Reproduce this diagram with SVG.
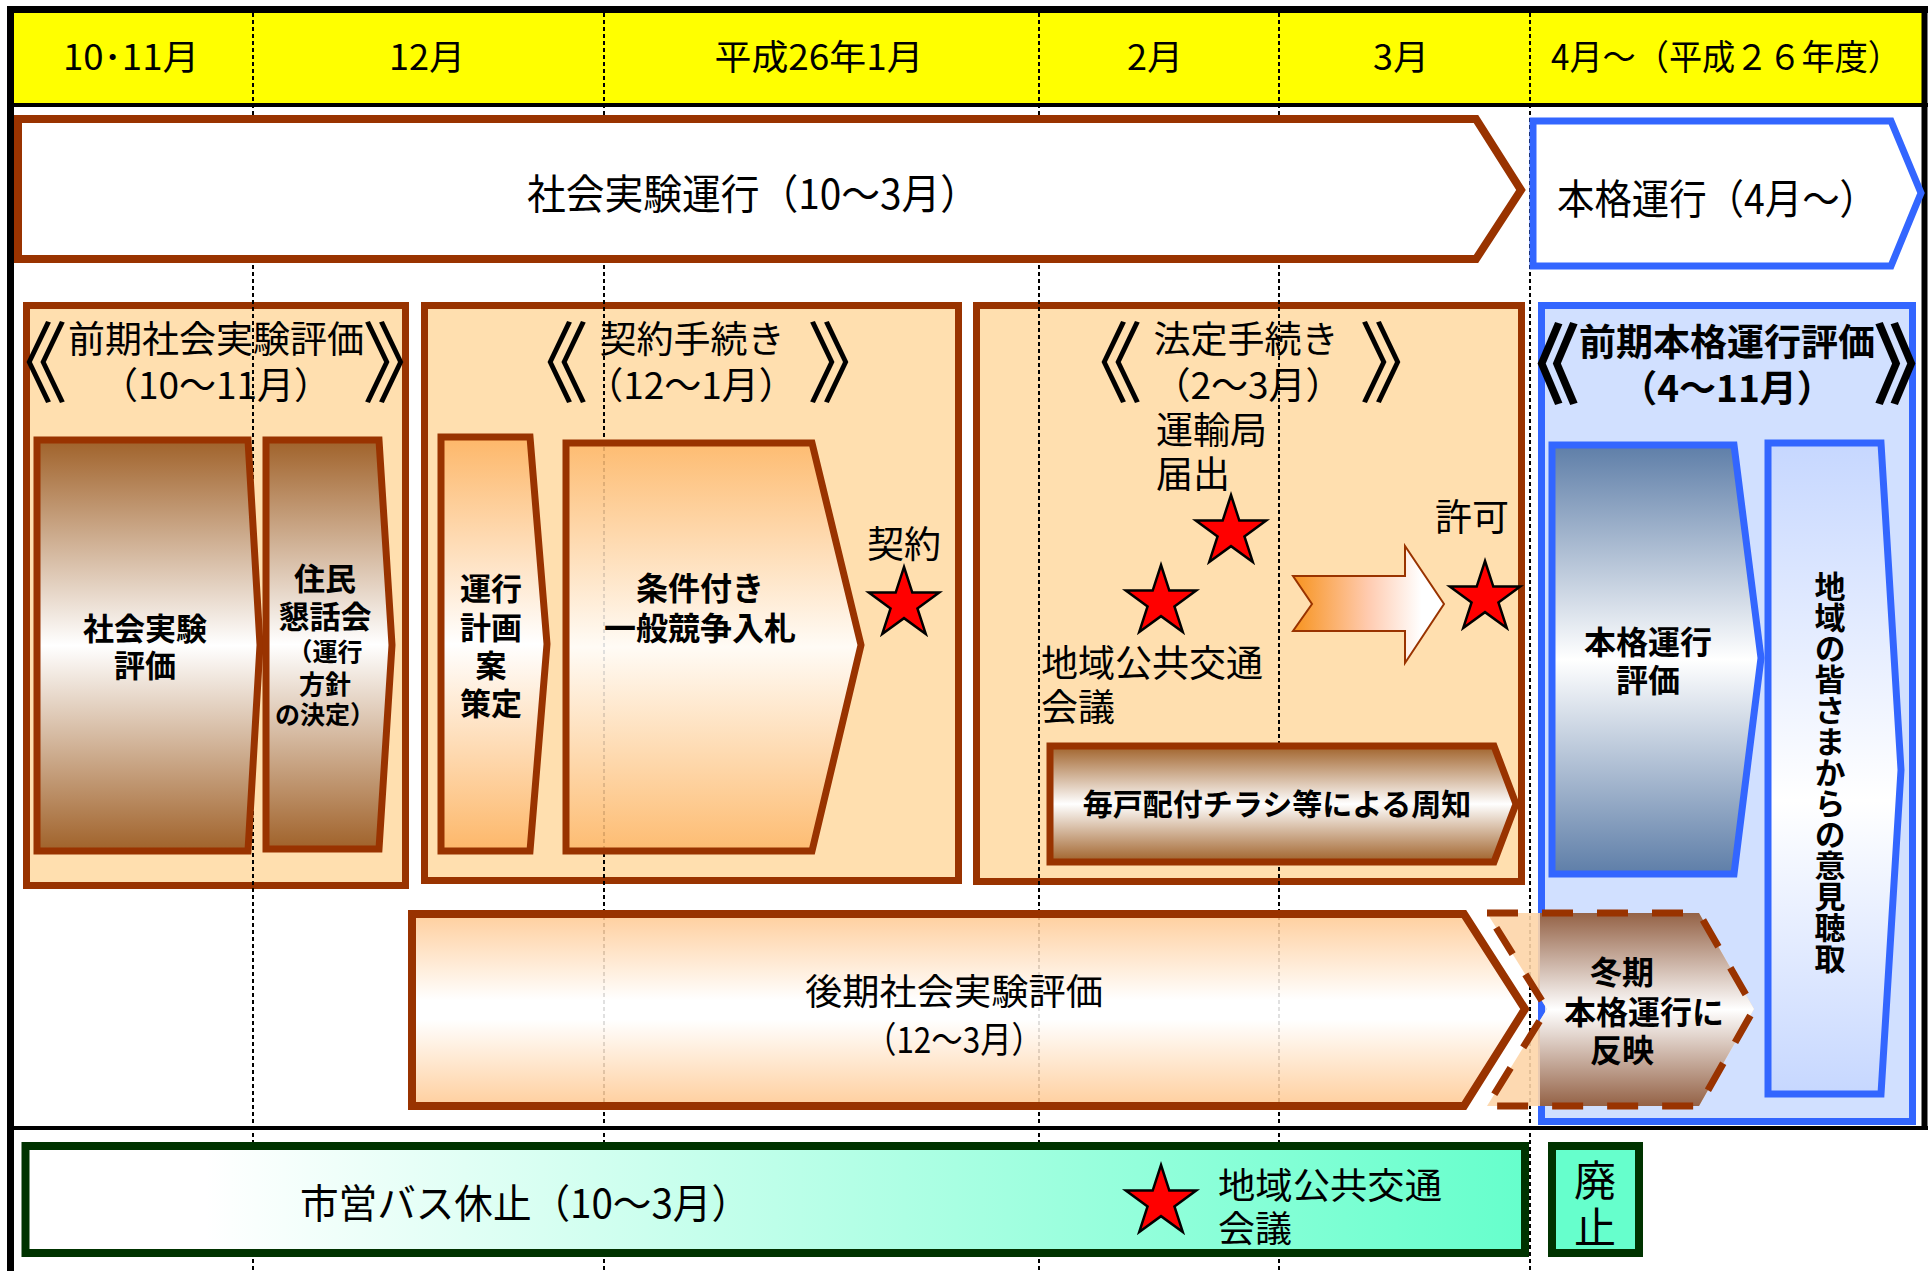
<svg xmlns="http://www.w3.org/2000/svg" width="1928" height="1271" viewBox="0 0 1928 1271">
<defs>
<style>
.t{font-family:'Noto Sans CJK JP','Noto Sans CJK SC',sans-serif;fill:#000}
.b{font-weight:bold}
.m{text-anchor:middle}
.k{font-feature-settings:"halt" 1}
.br{stroke:#993300;stroke-width:7;stroke-linejoin:miter}
.bl{stroke:#3366FF;stroke-width:7}
.star{fill:#FF0000;stroke:#000;stroke-width:2.5;stroke-linejoin:miter}
.dot{stroke:#000;stroke-width:2;stroke-dasharray:4 3;fill:none}
</style>
<linearGradient id="gBrown" x1="0" y1="0" x2="0" y2="1"><stop offset="0" stop-color="#A0622A"/><stop offset="0.5" stop-color="#FFFFFF"/><stop offset="1" stop-color="#A0622A"/></linearGradient>
<linearGradient id="gOrange" x1="0" y1="0" x2="0" y2="1"><stop offset="0" stop-color="#FDB769"/><stop offset="0.5" stop-color="#FFFFFF"/><stop offset="1" stop-color="#FDB769"/></linearGradient>
<linearGradient id="gPeach" x1="0" y1="0" x2="0" y2="1"><stop offset="0" stop-color="#FFC890"/><stop offset="0.45" stop-color="#FFFFFF"/><stop offset="0.55" stop-color="#FFFFFF"/><stop offset="1" stop-color="#FFC890"/></linearGradient>
<linearGradient id="gBlueGray" x1="0" y1="0" x2="0" y2="1"><stop offset="0" stop-color="#5E7EA8"/><stop offset="0.5" stop-color="#FFFFFF"/><stop offset="1" stop-color="#5E7EA8"/></linearGradient>
<linearGradient id="gLightBlue" x1="0" y1="0" x2="0" y2="1"><stop offset="0" stop-color="#C6D7FF"/><stop offset="0.55" stop-color="#FFFFFF"/><stop offset="1" stop-color="#C6D7FF"/></linearGradient>
<linearGradient id="gOrangeH" x1="0" y1="0" x2="1" y2="0"><stop offset="0" stop-color="#F7931E"/><stop offset="0.5" stop-color="#FFCBB0"/><stop offset="0.85" stop-color="#FFFFFF"/></linearGradient>
<linearGradient id="gGreenH" x1="0" y1="0" x2="1" y2="0"><stop offset="0" stop-color="#FFFFFF"/><stop offset="0.12" stop-color="#FFFFFF"/><stop offset="1" stop-color="#66FFCC"/></linearGradient>
<linearGradient id="gWinter" x1="0" y1="0" x2="0" y2="1"><stop offset="0" stop-color="#946246"/><stop offset="0.5" stop-color="#FFFFFF"/><stop offset="1" stop-color="#946246"/></linearGradient>
<clipPath id="cpRight"><rect x="1540" y="880" width="300" height="260"/></clipPath>
<path id="star" d="M0,-37 L8.31,-11.43 L35.19,-11.43 L13.44,4.37 L21.75,29.93 L0,14.13 L-21.75,29.93 L-13.44,4.37 L-35.19,-11.43 L-8.31,-11.43 Z"/>
</defs>

<rect x="0" y="0" width="1928" height="1271" fill="#FFFFFF"/>

<g id="header">
<rect x="10" y="10" width="1915" height="95" fill="#FFFF00"/>
<text class="t m" x="131" y="70" font-size="35" textLength="136" lengthAdjust="spacingAndGlyphs">10･11月</text>
<text class="t m" x="427" y="70" font-size="35" textLength="76" lengthAdjust="spacingAndGlyphs">12月</text>
<text class="t m" x="819" y="70" font-size="35" textLength="209" lengthAdjust="spacingAndGlyphs">平成26年1月</text>
<text class="t m" x="1155" y="70" font-size="35" textLength="56" lengthAdjust="spacingAndGlyphs">2月</text>
<text class="t m" x="1401" y="70" font-size="35" textLength="56" lengthAdjust="spacingAndGlyphs">3月</text>
<text class="t m" x="1726" y="70" font-size="35" textLength="350" lengthAdjust="spacingAndGlyphs">4月～（平成２６年度）</text>
</g>

<g id="box-zenki-shakai">
<rect x="26.5" y="305.5" width="379" height="580" fill="#FFDFAF" class="br"/>
</g>
<g id="box-keiyaku">
<rect x="424.5" y="305.5" width="534" height="575" fill="#FFDFAF" class="br"/>
</g>
<g id="box-houtei">
<rect x="976.5" y="305.5" width="545" height="576" fill="#FFDFAF" class="br"/>
</g>
<g id="box-zenki-honkaku">
<rect x="1541.5" y="305.5" width="371" height="816" fill="#D1E0FF" class="bl"/>
</g>

<g id="gridlines">
<line class="dot" x1="253" y1="13" x2="253" y2="1271"/>
<line class="dot" x1="604" y1="13" x2="604" y2="1271"/>
<line class="dot" x1="1039" y1="13" x2="1039" y2="1271"/>
<line class="dot" x1="1279" y1="13" x2="1279" y2="1271"/>
<line class="dot" x1="1530" y1="13" x2="1530" y2="1271"/>
</g>

<g id="frame" stroke="#000" fill="none">
<line x1="7" y1="9.5" x2="1928" y2="9.5" stroke-width="7"/>
<line x1="10.5" y1="6" x2="10.5" y2="1271" stroke-width="7"/>
<line x1="1924.5" y1="6" x2="1924.5" y2="1129" stroke-width="6"/>
<line x1="7" y1="105" x2="1928" y2="105" stroke-width="4"/>
<line x1="7" y1="1128" x2="1928" y2="1128" stroke-width="4"/>
</g>

<g id="shakai-unkou">
<path d="M18,119 L1476,119 L1521,190 L1476,259 L18,259 Z" fill="#FFFFFF" stroke="#993300" stroke-width="8"/>
<text class="t m" x="753" y="209" font-size="41" textLength="452" lengthAdjust="spacingAndGlyphs">社会実験運行（10～3月）</text>
</g>

<g id="honkaku-unkou">
<path d="M1533,121 L1891,121 L1921,193 L1891,266 L1533,266 Z" fill="#FFFFFF" stroke="#3366FF" stroke-width="7"/>
<text class="t m" x="1717" y="214" font-size="41" textLength="320" lengthAdjust="spacingAndGlyphs">本格運行（4月～）</text>
</g>

<g id="title-zenki-shakai">
<text class="t m k" x="46" y="395" font-size="88">《</text>
<text class="t m" x="216" y="353" font-size="37">前期社会実験評価</text>
<text class="t m" x="216" y="399" font-size="37">（10～11月）</text>
<text class="t m k" x="384" y="395" font-size="88">》</text>
</g>

<g id="shakai-hyouka">
<path d="M37,440 L248,440 L260,645 L248,851 L37,851 Z" fill="url(#gBrown)" class="br"/>
<text class="t b m" x="145" y="640" font-size="31">社会実験</text>
<text class="t b m" x="145" y="677" font-size="31">評価</text>
</g>

<g id="jumin-kondankai">
<path d="M266,440 L379,440 L392,645 L379,849 L266,849 Z" fill="url(#gBrown)" class="br"/>
<text class="t b m" x="325" y="590" font-size="31">住民</text>
<text class="t b m" x="325" y="628" font-size="31">懇話会</text>
<text class="t b m" x="325" y="661" font-size="25">（運行</text>
<text class="t b m" x="325" y="694" font-size="26">方針</text>
<text class="t b m" x="325" y="724" font-size="25">の決定）</text>
</g>

<g id="title-keiyaku">
<text class="t m k" x="567" y="395" font-size="88">《</text>
<text class="t m" x="692" y="353" font-size="37">契約手続き</text>
<text class="t m" x="691" y="399" font-size="37">（12～1月）</text>
<text class="t m k" x="829" y="395" font-size="88">》</text>
</g>

<g id="unkou-keikaku">
<path d="M441,437 L530,437 L547,644 L530,851 L441,851 Z" fill="url(#gOrange)" class="br"/>
<text class="t b m" x="491" y="600" font-size="31">運行</text>
<text class="t b m" x="491" y="639" font-size="31">計画</text>
<text class="t b m" x="491" y="677" font-size="31">案</text>
<text class="t b m" x="491" y="715" font-size="31">策定</text>
</g>

<g id="nyusatsu">
<path d="M566,443 L812,443 L861,645 L812,851 L566,851 Z" fill="url(#gOrange)" fill-opacity="0.88" class="br"/>
<text class="t b m" x="700" y="600" font-size="32">条件付き</text>
<text class="t b m" x="700" y="640" font-size="32">一般競争入札</text>
</g>

<g id="keiyaku">
<text class="t m" x="904" y="558" font-size="37">契約</text>
<use href="#star" class="star" transform="translate(904,604)"/>
</g>

<g id="title-houtei">
<text class="t m k" x="1121" y="395" font-size="88">《</text>
<text class="t m" x="1246" y="353" font-size="37">法定手続き</text>
<text class="t m" x="1248" y="399" font-size="37">（2～3月）</text>
<text class="t m k" x="1381" y="395" font-size="88">》</text>
</g>

<g id="unyukyoku">
<text class="t" x="1156" y="444" font-size="37">運輸局</text>
<text class="t" x="1156" y="488" font-size="37">届出</text>
<use href="#star" class="star" transform="translate(1231,532)"/>
</g>

<g id="chiiki-kaigi-1">
<use href="#star" class="star" transform="translate(1161,602)"/>
<text class="t" x="1041" y="677" font-size="37">地域公共交通</text>
<text class="t" x="1041" y="721" font-size="37">会議</text>
</g>

<g id="kyoka-arrow">
<path d="M1293,576 L1405,576 L1405,546 L1444,604 L1405,663 L1405,631 L1293,631 L1312,604 Z" fill="url(#gOrangeH)" stroke="#993300" stroke-width="2"/>
</g>

<g id="kyoka">
<text class="t m" x="1472" y="531" font-size="37">許可</text>
<use href="#star" class="star" transform="translate(1485,598)"/>
</g>

<g id="shuchi">
<path d="M1050,746 L1494,746 L1516,804 L1494,862 L1050,862 Z" fill="url(#gBrown)" class="br"/>
<text class="t b m" x="1277" y="815" font-size="30">毎戸配付チラシ等による周知</text>
</g>

<g id="title-zenki-honkaku">
<text class="t b m k" x="1558" y="397" font-size="88">《</text>
<text class="t b m" x="1727" y="356" font-size="37">前期本格運行評価</text>
<text class="t b m" x="1727" y="402" font-size="37">（4～11月）</text>
<text class="t b m k" x="1895" y="397" font-size="88">》</text>
</g>

<g id="honkaku-hyouka">
<path d="M1552,445 L1734,445 L1761,658 L1734,874 L1552,874 Z" fill="url(#gBlueGray)" class="bl"/>
<text class="t b m" x="1648" y="654" font-size="32">本格運行</text>
<text class="t b m" x="1648" y="692" font-size="32">評価</text>
</g>

<g id="iken-chousyu">
<path d="M1768,443 L1881,443 L1901,770 L1881,1094 L1768,1094 Z" fill="url(#gLightBlue)" class="bl"/>
<text class="t b" x="1830" y="571" font-size="31" writing-mode="vertical-rl">地域の皆さまからの意見聴取</text>
</g>

<g id="touki-hanei">
<path d="M1487,913 L1699,913 L1754,1009 L1699,1106 L1487,1106 L1547,1009 Z" fill="#FDD5A8" fill-opacity="0.9"/>
<path d="M1487,913 L1699,913 L1754,1009 L1699,1106 L1487,1106 L1547,1009 Z" fill="url(#gWinter)" clip-path="url(#cpRight)"/>
<path d="M1487,913 L1699,913 L1754,1009 L1699,1106 L1487,1106 L1547,1009 Z" fill="none" stroke="#993300" stroke-width="7" stroke-dasharray="31 24"/>
<text class="t b m" x="1622" y="984" font-size="32">冬期</text>
<text class="t b m" x="1644" y="1024" font-size="32">本格運行に</text>
<text class="t b m" x="1622" y="1062" font-size="32">反映</text>
</g>

<g id="kouki-hyouka">
<path d="M412,914 L1464,914 L1525,1009 L1464,1106 L412,1106 Z" fill="url(#gPeach)" fill-opacity="0.88" stroke="#993300" stroke-width="8"/>
<text class="t m" x="954" y="1005" font-size="36" textLength="298" lengthAdjust="spacingAndGlyphs">後期社会実験評価</text>
<text class="t m" x="954" y="1053" font-size="36" textLength="178" lengthAdjust="spacingAndGlyphs">（12～3月）</text>
</g>

<g id="shiei-bus">
<rect x="25.5" y="1146" width="1499.5" height="107" fill="url(#gGreenH)" stroke="#003300" stroke-width="8"/>
<text class="t m" x="525" y="1218" font-size="40" textLength="450" lengthAdjust="spacingAndGlyphs">市営バス休止（10～3月）</text>
<use href="#star" class="star" transform="translate(1161,1202)"/>
<text class="t" x="1218" y="1199" font-size="36" textLength="224" lengthAdjust="spacingAndGlyphs">地域公共交通</text>
<text class="t" x="1218" y="1242" font-size="36" textLength="74" lengthAdjust="spacingAndGlyphs">会議</text>
</g>

<g id="haishi">
<rect x="1552" y="1146" width="87" height="107" fill="#66FFCC" stroke="#003300" stroke-width="8"/>
<text class="t m" x="1595" y="1196" font-size="42" textLength="42" lengthAdjust="spacingAndGlyphs">廃</text>
<text class="t m" x="1595" y="1243" font-size="42" textLength="42" lengthAdjust="spacingAndGlyphs">止</text>
</g>
</svg>
